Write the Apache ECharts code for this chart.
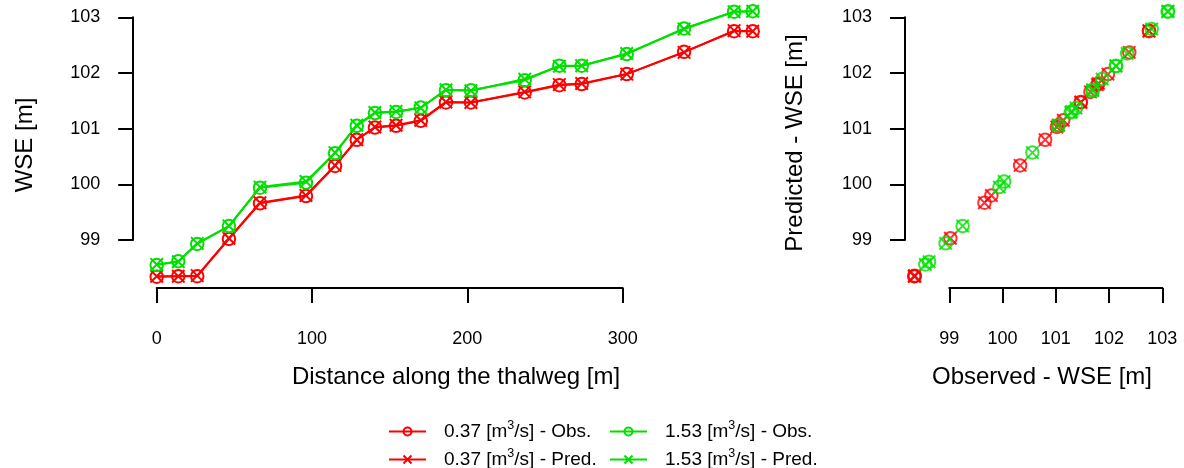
<!DOCTYPE html>
<html>
<head>
<meta charset="utf-8">
<script src="https://cdn.jsdelivr.net/npm/echarts@6/dist/echarts.min.js"></script>
<style>
  html, body { margin: 0; padding: 0; background: #fff; }
  #chart { width: 1184px; height: 468px; }
</style>
</head>
<body>
<div id="chart"></div>
<script>
// Distance of each gauging point along the thalweg [m]
const distance = [0, 13.9, 26.1, 46.5, 66.5, 96.1, 114.8, 128.8, 140.5, 154.1,
                  170.0, 186.2, 202.3, 236.9, 259.2, 273.6, 302.6, 339.5, 371.7, 383.7];

// Water surface elevation [m] for Q = 0.37 m3/s
const obsLow  = [98.34, 98.35, 98.35, 99.02, 99.66, 99.79, 100.33, 100.80, 101.02, 101.05,
                 101.14, 101.47, 101.47, 101.65, 101.78, 101.80, 101.98, 102.38, 102.75, 102.75];
const predLow = [98.35, 98.35, 98.36, 99.03, 99.67, 99.80, 100.34, 100.80, 101.03, 101.06,
                 101.15, 101.48, 101.47, 101.66, 101.79, 101.81, 101.98, 102.37, 102.76, 102.75];

// Water surface elevation [m] for Q = 1.53 m3/s
const obsHigh  = [98.55, 98.62, 98.93, 99.25, 99.94, 100.03, 100.56, 101.05, 101.28, 101.30,
                  101.38, 101.69, 101.69, 101.87, 102.13, 102.13, 102.34, 102.80, 103.10, 103.11];
const predHigh = [98.56, 98.61, 98.94, 99.25, 99.95, 100.05, 100.57, 101.06, 101.29, 101.31,
                  101.37, 101.70, 101.68, 101.89, 102.12, 102.13, 102.35, 102.79, 103.10, 103.11];

const seriesNames = {
  lowObs: '0.37 [m³/s] - Obs.',
  lowPred: '0.37 [m³/s] - Pred.',
  highObs: '1.53 [m³/s] - Obs.',
  highPred: '1.53 [m³/s] - Pred.'
};

const RED = '#FF0000';
const GREEN = '#00E000';
const FONT = '"Liberation Sans", Arial, sans-serif';
const CROSS = 'path://M0,0L10,10M10,0L0,10';
const MARK = 12.5;

function axisStyle(extra, labelMargin) {
  return Object.assign({
    type: 'value',
    axisLine: { show: true, onZero: false, lineStyle: { color: '#000', width: 2 } },
    axisTick: { show: true, length: 15, lineStyle: { color: '#000', width: 2 } },
    axisLabel: { fontSize: 18, color: '#000', fontFamily: FONT, margin: labelMargin },
    splitLine: { show: false }
  }, extra);
}

function hiddenAxis(extra) {
  return Object.assign({ type: 'value', show: false, splitLine: { show: false } }, extra);
}

function circleStyle(color) {
  return { color: 'rgba(0,0,0,0)', borderColor: color, borderWidth: 2 };
}
function crossStyle(color) {
  return { color: color, borderColor: color, borderWidth: 2 };
}

// Longitudinal profile: value vs distance (drawn on the data grid of the left panel)
function profileSeries(name, values, color, symbol) {
  return {
    name: name,
    type: 'line',
    xAxisIndex: 2, yAxisIndex: 2,
    data: distance.map((d, i) => [d, values[i]]),
    symbol: symbol === 'cross' ? CROSS : 'circle',
    symbolSize: MARK,
    showSymbol: true,
    showAllSymbol: true,
    clip: false,
    lineStyle: { color: color, width: 2 },
    itemStyle: symbol === 'cross' ? crossStyle(color) : circleStyle(color),
    emphasis: { disabled: true }
  };
}

// Predicted vs observed (right panel)
function scatterSeries(name, obs, pred, color, symbol) {
  return {
    name: name,
    type: 'scatter',
    xAxisIndex: 1, yAxisIndex: 1,
    data: obs.map((o, i) => [o, pred[i]]),
    symbol: symbol === 'cross' ? CROSS : 'circle',
    symbolSize: MARK,
    clip: false,
    itemStyle: symbol === 'cross' ? crossStyle(color) : circleStyle(color),
    emphasis: { disabled: true }
  };
}

function legendItem(left, top, name) {
  return {
    orient: 'horizontal',
    left: left,
    top: top,
    padding: 0,
    itemWidth: 37,
    itemHeight: 10,
    selectedMode: false,
    data: [name],
    formatter: n => n.replace('³', '{sup|3}'),
    textStyle: {
      fontSize: 19, color: '#000', fontFamily: FONT,
      padding: [0, 0, 0, 13],
      rich: {
        sup: { fontSize: 12.5, fontFamily: FONT, color: '#000', verticalAlign: 'top', padding: [0, 0, 12, 0] }
      }
    }
  };
}

const chart = echarts.init(document.getElementById('chart'));
chart.setOption({
  animation: false,
  backgroundColor: '#fff',
  grid: [
    // axes of the left panel (tick range only)
    { left: 156.7, top: 17.3, width: 466, height: 222.7 },
    // right panel
    { left: 949.3, top: 17.3, width: 213, height: 222.7 },
    // plotting region of the left panel
    { left: 141.17, top: 6.165, width: 621.33, height: 278.375 }
  ],
  xAxis: [
    axisStyle({ gridIndex: 0, min: 0, max: 300, interval: 100, offset: 48 }, 42),
    axisStyle({ gridIndex: 1, min: 99, max: 103, interval: 1, offset: 48 }, 42),
    hiddenAxis({ gridIndex: 2, min: -10, max: 390 })
  ],
  yAxis: [
    axisStyle({ gridIndex: 0, min: 99, max: 103, interval: 1, offset: 23.5 }, 33),
    axisStyle({ gridIndex: 1, min: 99, max: 103, interval: 1, offset: 44.3 }, 33),
    hiddenAxis({ gridIndex: 2, min: 98.2, max: 103.2 })
  ],
  legend: [
    legendItem(388, 419, seriesNames.lowObs),
    legendItem(388, 447, seriesNames.lowPred),
    legendItem(609, 419, seriesNames.highObs),
    legendItem(609, 447, seriesNames.highPred)
  ],
  graphic: [
    { type: 'text', x: 25, y: 145, rotation: Math.PI / 2,
      style: { text: 'WSE [m]', fontSize: 24, fontFamily: FONT, fill: '#000', align: 'center', verticalAlign: 'middle' } },
    { type: 'text', x: 456, y: 377,
      style: { text: 'Distance along the thalweg [m]', fontSize: 24, fontFamily: FONT, fill: '#000', align: 'center', verticalAlign: 'middle' } },
    { type: 'text', x: 795, y: 143, rotation: Math.PI / 2,
      style: { text: 'Predicted - WSE [m]', fontSize: 24, fontFamily: FONT, fill: '#000', align: 'center', verticalAlign: 'middle' } },
    { type: 'text', x: 1042, y: 377,
      style: { text: 'Observed - WSE [m]', fontSize: 24, fontFamily: FONT, fill: '#000', align: 'center', verticalAlign: 'middle' } }
  ],
  series: [
    profileSeries(seriesNames.lowObs, obsLow, RED, 'circle'),
    profileSeries(seriesNames.lowPred, predLow, RED, 'cross'),
    profileSeries(seriesNames.highObs, obsHigh, GREEN, 'circle'),
    profileSeries(seriesNames.highPred, predHigh, GREEN, 'cross'),
    scatterSeries(seriesNames.lowObs, obsLow, predLow, RED, 'circle'),
    scatterSeries(seriesNames.lowPred, obsLow, predLow, RED, 'cross'),
    scatterSeries(seriesNames.highObs, obsHigh, predHigh, GREEN, 'circle'),
    scatterSeries(seriesNames.highPred, obsHigh, predHigh, GREEN, 'cross')
  ]
});
</script>
</body>
</html>
